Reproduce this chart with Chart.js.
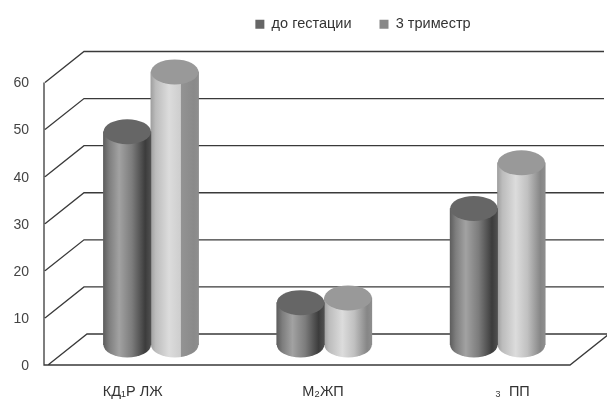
<!DOCTYPE html>
<html>
<head>
<meta charset="utf-8">
<style>
  html, body { margin: 0; padding: 0; background: #fff; }
  #wrap { width: 607px; height: 400px; }
</style>
<script src="https://cdn.jsdelivr.net/npm/chart.js@4/dist/chart.umd.min.js"></script>
</head>
<body>
<div id="wrap"><canvas id="myChart"></canvas></div>
<script>
const categories = ["КД₁Р ЛЖ", "М₂ЖП", "₃  ПП"];
const seriesNames = ["до гестации", "3 триместр"];
const beforeGestation = [45.3, 9, 29];
const thirdTrimester = [58, 10, 38.7];
const yTicks = [0, 10, 20, 30, 40, 50, 60];

// x shift of each category label from its tick
const labelShift = [2, 19, 35];

// depth of the 3d box, and where the cylinders stand inside it
const depthX = 39, depthY = -31;
const barX = 20.3, barY = -20;
const capRadius = 12.5;

const bodyStops = [
  [[0, "#5e5e5e"], [0.12, "#7e7e7e"], [0.33, "#a2a2a2"], [0.6, "#7c7c7c"], [0.88, "#3c3c3c"], [1, "#505050"]],
  [[0, "#a0a0a0"], [0.1, "#bcbcbc"], [0.38, "#dcdcdc"], [0.63, "#c0c0c0"], [0.9, "#868686"], [1, "#8e8e8e"]],
];
// the tall cylinder has a hard edge down its right side
const seamStops = [[0, "#a0a0a0"], [0.1, "#bcbcbc"], [0.38, "#dcdcdc"], [0.62, "#cecece"], [0.64, "#939393"], [0.9, "#8a8a8a"], [1, "#8e8e8e"]];
const capColors = ["#666666", "#999999"];
const gridColor = "#3a3a3a";

function stopsFor(datasetIndex, barIndex) {
  return datasetIndex === 1 && barIndex === 0 ? seamStops : bodyStops[datasetIndex];
}

function bodyGradient(ctx, left, right, stops) {
  const g = ctx.createLinearGradient(left, 0, right, 0);
  stops.forEach(([at, color]) => g.addColorStop(at, color));
  return g;
}

function ellipse(ctx, x, y, rx) {
  ctx.beginPath();
  ctx.ellipse(x, y, rx, capRadius, 0, 0, Math.PI * 2);
  ctx.fill();
}

const cylinders = {
  id: "cylinders",
  beforeDatasetDraw(chart, args) {
    const ctx = chart.ctx;
    ctx.save();
    ctx.translate(barX, barY);
    args.meta.data.forEach((bar, i) => {
      ctx.fillStyle = bodyGradient(ctx, bar.x - bar.width / 2, bar.x + bar.width / 2, stopsFor(args.index, i));
      ellipse(ctx, bar.x, bar.base, bar.width / 2);
    });
  },
  afterDatasetDraw(chart, args) {
    const ctx = chart.ctx;
    args.meta.data.forEach((bar, i) => {
      const left = bar.x - bar.width / 2;
      ctx.fillStyle = bodyGradient(ctx, left, left + bar.width, stopsFor(args.index, i));
      ctx.fillRect(left, bar.y, bar.width, bar.base - bar.y);
      ctx.fillStyle = capColors[args.index];
      ellipse(ctx, bar.x, bar.y, bar.width / 2);
    });
    ctx.restore();
  },
};

// back wall, side wall and floor lines behind the cylinders
const box = {
  id: "box",
  afterLayout(chart) {
    chart.legend.left = 162;
    chart.legend.top = -11;
  },
  beforeDatasetsDraw(chart) {
    const ctx = chart.ctx;
    const { left, right } = chart.chartArea;
    const y = chart.scales.y;
    ctx.save();
    ctx.strokeStyle = gridColor;
    ctx.lineWidth = 1.3;
    ctx.beginPath();
    yTicks.forEach((tick) => {
      const py = y.getPixelForValue(tick);
      const inset = tick === 0 ? 4 : 1;
      ctx.moveTo(left + inset, py);
      ctx.lineTo(left + depthX + inset, py + depthY);
      ctx.lineTo(left + depthX + inset + right - left, py + depthY);
    });
    const bottom = y.getPixelForValue(0);
    ctx.moveTo(left, y.getPixelForValue(60));
    ctx.lineTo(left, bottom);
    ctx.lineTo(570, bottom);
    ctx.lineTo(570 + depthX, bottom + depthY);
    ctx.stroke();
    ctx.restore();
  },
  afterDraw(chart) {
    const ctx = chart.ctx;
    const x = chart.scales.x;
    ctx.save();
    ctx.font = "14.5px 'Liberation Sans'";
    ctx.fillStyle = "#333";
    ctx.textAlign = "center";
    ctx.textBaseline = "middle";
    categories.forEach((label, i) => {
      ctx.fillText(label, x.getPixelForTick(i) + labelShift[i], 392);
    });
    ctx.restore();
  },
};

new Chart(document.getElementById("myChart"), {
  type: "bar",
  data: {
    labels: categories,
    datasets: [
      { label: seriesNames[0], data: beforeGestation, backgroundColor: "#666666" },
      { label: seriesNames[1], data: thirdTrimester, backgroundColor: "#888888" },
    ],
  },
  options: {
    responsive: true,
    maintainAspectRatio: false,
    animation: false,
    layout: { padding: { top: 30, right: 43, bottom: 27 } },
    barThickness: 47.5,
    plugins: {
      tooltip: { enabled: false },
      legend: {
        position: "top",
        labels: {
          boxWidth: 9,
          boxHeight: 9,
          padding: 28,
          color: "#333",
          font: { family: "'Liberation Sans'", size: 14.5 },
        },
      },
    },
    scales: {
      x: {
        grid: { display: false },
        border: { display: false },
        ticks: { display: false },
      },
      y: {
        min: 0,
        max: 60,
        afterBuildTicks: (scale) => { scale.ticks = yTicks.map((value) => ({ value })); },
        afterFit: (scale) => { scale.width = 44; },
        grid: { display: false },
        border: { display: false },
        ticks: {
          color: "#444",
          padding: 7,
          labelOffset: 1,
          font: { family: "'Liberation Sans'", size: 14 },
        },
      },
    },
  },
  plugins: [box, cylinders],
});
</script>
</body>
</html>
